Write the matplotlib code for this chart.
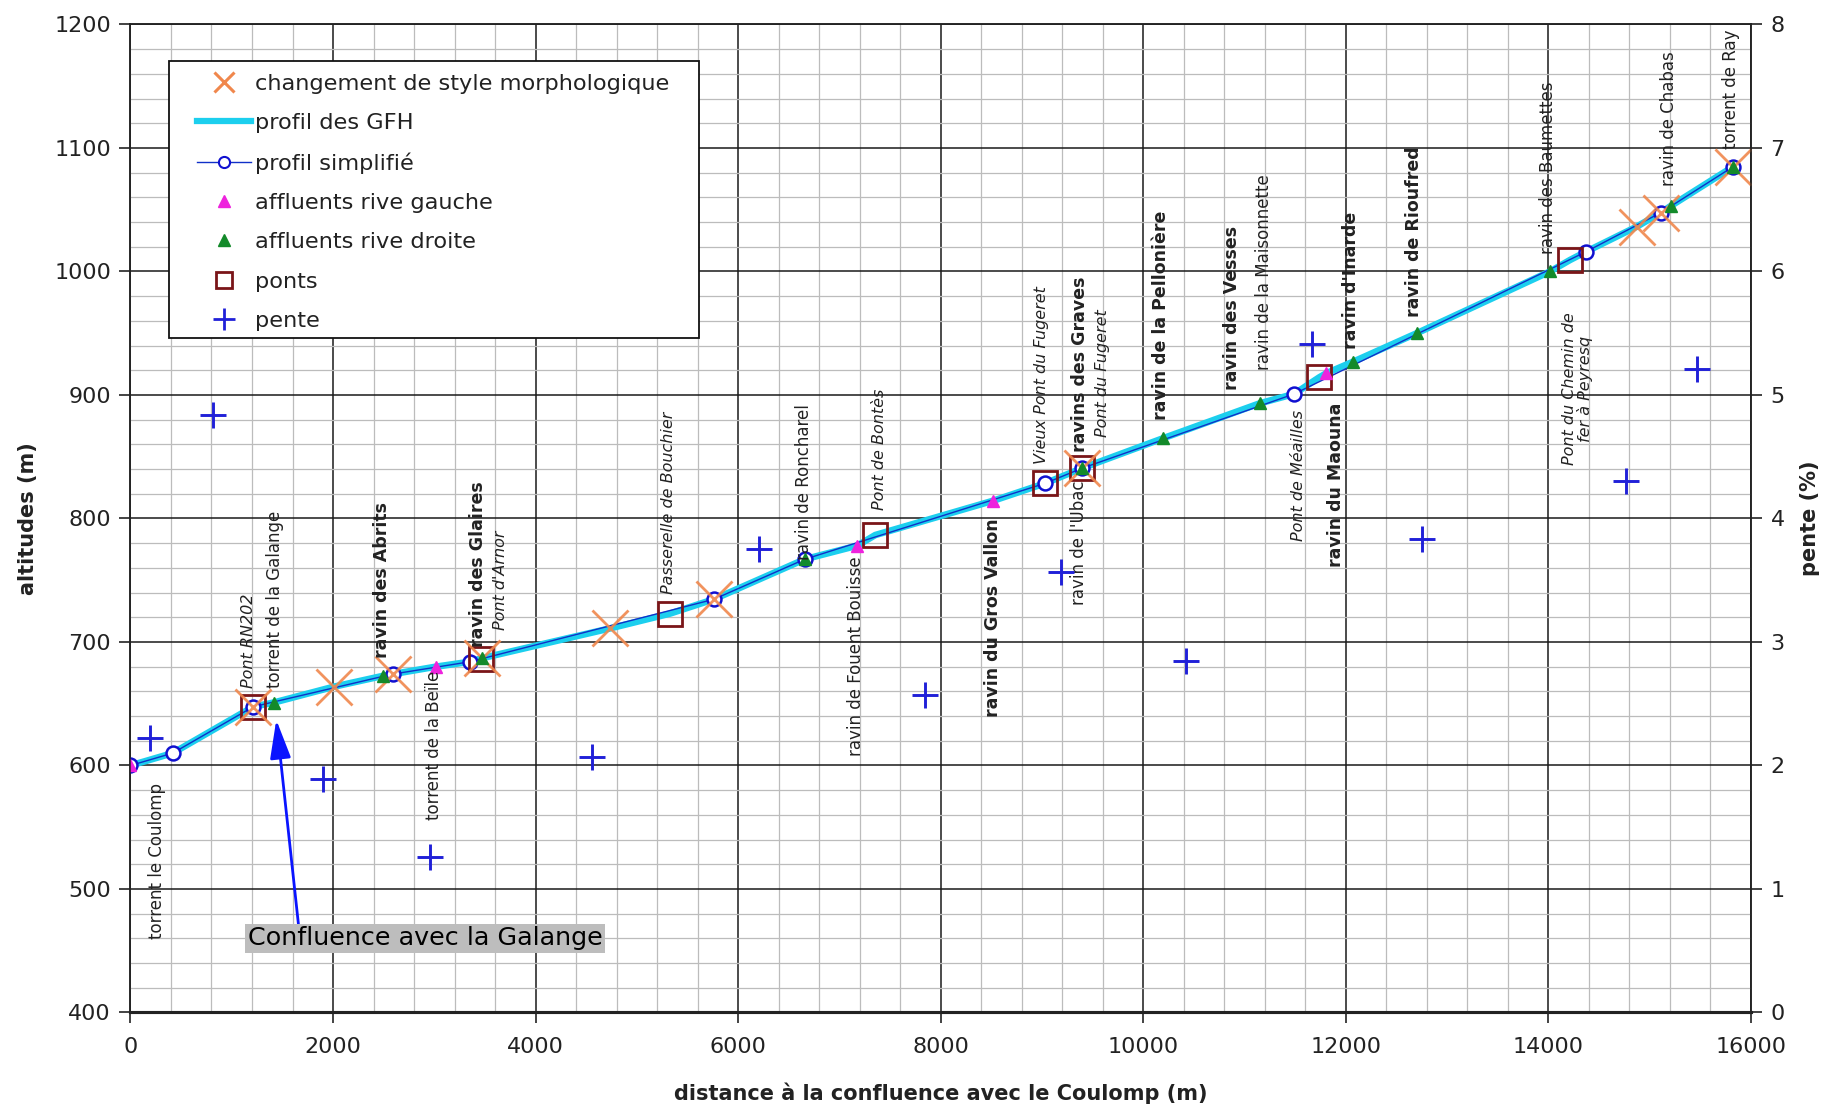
import matplotlib
matplotlib.use("Agg")
import matplotlib.pyplot as plt
from matplotlib.lines import Line2D
from matplotlib.patches import Rectangle
from matplotlib.ticker import MultipleLocator

# --- Profil en long : distance à la confluence (m) / altitude (m) ---
gfh_dist = [0, 417, 1213, 1417, 2009, 2490, 2589, 3016, 3352, 3467, 4734, 5327,
            5761, 6658, 7176, 7354, 8519, 9032, 9392, 10197, 11152, 11488, 11738,
            11807, 12074, 12700, 14016, 14213, 14371, 14872, 15109, 15207, 15826]
gfh_alt = [600, 610, 647.6, 651, 663.8, 672.5, 674, 680, 684, 686.8, 711, 723,
           734.6, 767, 778, 786.6, 814.4, 828.5, 840.6, 865, 893.3, 900.8, 914.3,
           917.6, 927, 950, 1000, 1009.3, 1016, 1036.3, 1047.6, 1053, 1085]

simp_dist = [0, 417, 1213, 2589, 3352, 5761, 6658, 9032, 9392, 11488, 14371, 15109, 15826]
simp_alt = [600, 610, 647.6, 674, 684, 734.6, 767, 828.5, 840.6, 900.8, 1016, 1047.6, 1085]

chg_dist = [1213, 2009, 2589, 3467, 4734, 5761, 9392, 14872, 15109, 15826]
chg_alt = [647.6, 663.8, 674, 686.8, 711, 734.6, 840.6, 1036.3, 1047.6, 1085]

rg_dist = [0, 3016, 7176, 8519, 11807]
rg_alt = [600, 680, 778, 814.4, 917.6]

rd_dist = [1417, 2490, 3467, 6658, 9392, 10197, 11152, 12074, 12700, 14016, 15207, 15826]
rd_alt = [651, 672.5, 686.8, 767, 840.6, 865, 893.3, 927, 950, 1000, 1053, 1085]

pont_dist = [1213, 3460, 5327, 7354, 9032, 9392, 11738, 14213]
pont_alt = [647.6, 686, 723, 786.6, 828.5, 840.6, 914.3, 1009.3]

pente_dist = [196, 817, 1898, 2956, 4554, 6210, 7843, 9189, 10419, 11661, 12754, 14766, 15468]
pente_val = [2.22, 4.84, 1.89, 1.26, 2.07, 3.75, 2.57, 3.57, 2.85, 5.41, 3.83, 4.30, 5.21]

# --- Noms des affluents et des ponts ---
noms = ["torrent le Coulomp", "Pont RN202", "torrent de la Galange", "ravin des Abrits",
        "torrent de la Beïle", "ravin des Glaires", "Pont d'Arnor", "Passerelle de Bouchier",
        "ravin de Roncharel", "ravin de Fouent Bouisse", "Pont de Bontès",
        "ravin du Gros Vallon", "Vieux Pont du Fugeret", "ravin de l'Ubac",
        "ravins des Graves", "Pont du Fugeret", "ravin de la Pellonière",
        "ravin des Vesses", "ravin de la Maisonnette", "Pont de Méailles",
        "ravin du Maouna", "ravin d'Inarde", "ravin de Rioufred", "ravin des Baumettes",
        "Pont du Chemin de\nfer à Peyresq", "ravin de Chabas", "torrent de Ray"]
noms_dist = [265, 1161, 1426, 2484, 3001, 3427, 3657, 5313, 6647, 7164, 7394, 8521,
             8993, 9361, 9372, 9602, 10177, 10879, 11190, 11534, 11902, 12052, 12673,
             13995, 14290, 15191, 15800]
noms_alt = [586, 663, 663, 687, 677, 696, 710, 739, 766, 769, 807, 800, 844, 831,
            854, 866, 880, 904, 920, 888, 894, 937, 963, 1014, 967, 1069, 1099]
# 'h' : texte au-dessus du point, 'b' : texte en dessous
noms_sens = ["b", "h", "h", "h", "b", "h", "h", "h", "h", "b", "h", "b", "h", "b",
             "h", "h", "h", "h", "h", "b", "b", "h", "h", "h", "b", "h", "h"]
# 'n' normal, 'g' gras, 'i' italique
noms_style = ["n", "i", "n", "g", "n", "g", "i", "i", "n", "n", "i", "g", "i", "n",
              "g", "i", "g", "g", "n", "i", "g", "g", "g", "n", "i", "n", "n"]

TXT = "#222222"

fig = plt.figure(figsize=(18.27, 11.08), dpi=100)
ax = fig.add_axes([0.0714, 0.0862, 0.8870, 0.8917])
ax2 = ax.twinx()

ax.set_xlim(0, 16000)
ax.set_ylim(400, 1200)
ax2.set_ylim(0, 8)

ax.xaxis.set_major_locator(MultipleLocator(2000))
ax.xaxis.set_minor_locator(MultipleLocator(400))
ax.yaxis.set_major_locator(MultipleLocator(100))
ax.yaxis.set_minor_locator(MultipleLocator(20))
ax2.yaxis.set_major_locator(MultipleLocator(1))

ax.grid(which="minor", color="#bcbcbc", lw=0.9)
ax.grid(which="major", color="#1a1a1a", lw=1.1)
ax.set_axisbelow(True)

for a in (ax, ax2):
    a.tick_params(which="major", direction="out", length=8, width=1.2, labelsize=16,
                  pad=6, colors=TXT)
    a.tick_params(which="minor", length=0)
    for s in a.spines.values():
        s.set_color(TXT)
        s.set_linewidth(1.1)
    a.spines["bottom"].set_linewidth(2.2)
ax.tick_params(axis="x", pad=10)

# profils et points remarquables
ax.plot(gfh_dist, gfh_alt, color="#1ccfee", lw=4.8, zorder=3)
ax.plot(simp_dist, simp_alt, color="#1030c8", lw=1.0, marker="o", ms=10,
        mfc="white", mec="#1010d0", mew=1.8, zorder=4)
ax.plot(pont_dist, pont_alt, ls="none", marker="s", ms=17, mfc="none",
        mec="#7a1518", mew=2.0, zorder=5)
ax.plot(chg_dist, chg_alt, ls="none", marker="x", ms=26, mec="#f0874c", mew=2.0,
        alpha=0.9, zorder=5)
ax.plot(rg_dist, rg_alt, ls="none", marker="^", ms=8, color="#ee22dd", zorder=6)
ax.plot(rd_dist, rd_alt, ls="none", marker="^", ms=8, color="#138a2a", zorder=6)
ax2.plot(pente_dist, pente_val, ls="none", marker="+", ms=19, mew=2.1,
         color="#2020d8", zorder=6)

styles = {"n": dict(fontsize=12, fontweight="normal", fontstyle="normal"),
          "g": dict(fontsize=12.5, fontweight="bold", fontstyle="normal"),
          "i": dict(fontsize=11.5, fontweight="normal", fontstyle="italic")}
for nom, d, z, sens, st in zip(noms, noms_dist, noms_alt, noms_sens, noms_style):
    ax.text(d, z, nom, rotation=90, ha="center",
            va="bottom" if sens == "h" else "top", color=TXT,
            linespacing=1.0, zorder=7, **styles[st])

ax.annotate("Confluence avec la Galange", xy=(1440, 637), xytext=(1160, 460),
            fontsize=18.3, color="black", ha="left", va="center", zorder=8,
            bbox=dict(boxstyle="square,pad=0.1", fc="#bdbdbd", ec="none"),
            arrowprops=dict(arrowstyle="-|>,head_length=1.3,head_width=0.35",
                            color="#0a14ff", lw=2, relpos=(0.143, 1.0),
                            shrinkA=0, shrinkB=0))

ax.set_xlabel("distance à la confluence avec le Coulomp (m)", fontsize=15,
              fontweight="bold", color=TXT)
ax.xaxis.set_label_coords(0.5, -0.071)
ax.set_ylabel("altitudes (m)", fontsize=15, fontweight="bold", color=TXT)
ax.yaxis.set_label_coords(-0.057, 0.5)
ax2.set_ylabel("pente (%)", fontsize=15, fontweight="bold", color=TXT)
ax2.yaxis.set_label_coords(1.0305, 0.5)

# cadre de la légende
ax2.add_patch(Rectangle((0.02376, 0.6827), 0.32704, 0.28076, transform=ax2.transAxes,
                        fc="white", ec="#111111", lw=1.3, zorder=19))

handles = [
    Line2D([], [], ls="none", marker="x", ms=14, mec="#f0874c", mew=2.2),
    Line2D([], [], color="#1ccfee", lw=4.5),
    Line2D([], [], color="#1030c8", lw=1.0, marker="o", ms=8, mfc="white",
           mec="#1010d0", mew=1.5),
    Line2D([], [], ls="none", marker="^", ms=8, color="#ee22dd"),
    Line2D([], [], ls="none", marker="^", ms=8, color="#138a2a"),
    Line2D([], [], ls="none", marker="s", ms=12, mfc="none", mec="#7a1518", mew=2.0),
    Line2D([], [], ls="none", marker="+", ms=16, mew=2.0, color="#2020d8"),
]
labels = ["changement de style morphologique", "profil des GFH", "profil simplifié",
          "affluents rive gauche", "affluents rive droite", "ponts", "pente"]
leg = ax2.legend(handles, labels, loc="upper left", bbox_to_anchor=(0.0410, 0.9500),
                 borderaxespad=0, borderpad=0, fontsize=16.2, frameon=False,
                 handlelength=2.4, handletextpad=0.2, labelspacing=0.855)
leg.set_zorder(20)
for t in leg.get_texts():
    t.set_color(TXT)

fig.savefig("out.png", dpi=100)
